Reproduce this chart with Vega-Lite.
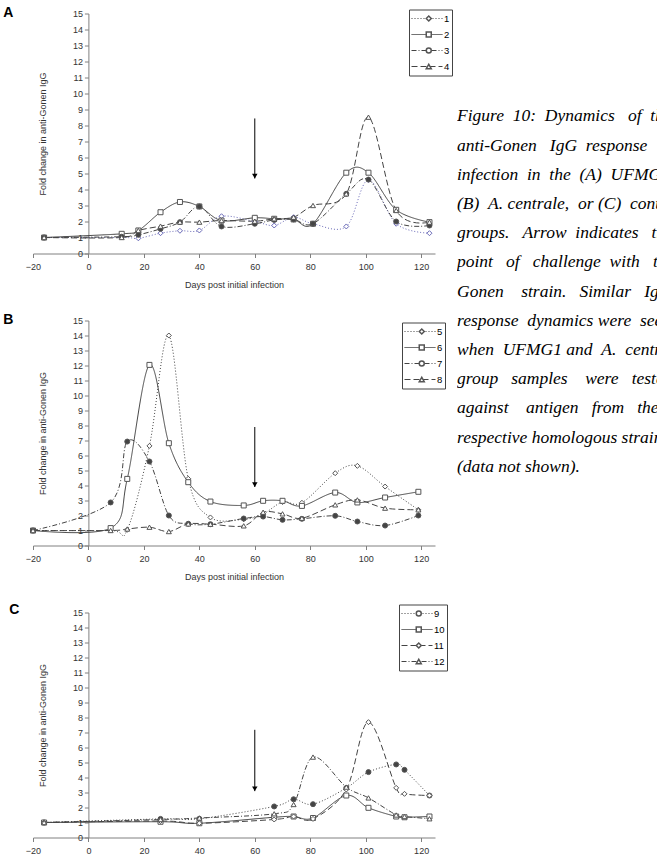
{
  "$schema": "https://vega.github.io/schema/vega-lite/v6.json",
  "background": "white",
  "padding": {"left": 3, "top": 5.5, "right": 0, "bottom": 0},
  "config": {
    "view": {"stroke": null},
    "font": "Liberation Sans",
    "axis": {
      "grid": false,
      "domainColor": "#808080",
      "tickColor": "#808080",
      "domainWidth": 1,
      "tickWidth": 1,
      "tickSize": 4,
      "labelFont": "Liberation Sans",
      "labelFontSize": 9,
      "labelColor": "#333",
      "labelFlush": false,
      "labelOverlap": false,
      "labelSeparation": 0,
      "titleFont": "Liberation Sans",
      "titleFontSize": 9,
      "titleFontWeight": "normal",
      "titleColor": "#333"
    },
    "axisX": {"labelPadding": 5, "titlePadding": 9},
    "axisY": {"offset": -55.4, "labelPadding": 2, "titlePadding": 25}
  },
  "datasets": {
    "A": [
      {"series":1,"day":-16,"value":1.0},{"series":1,"day":12,"value":1.0},{"series":1,"day":18,"value":0.95},{"series":1,"day":26,"value":1.27},{"series":1,"day":33,"value":1.42},{"series":1,"day":40,"value":1.44},{"series":1,"day":48,"value":2.33},{"series":1,"day":60,"value":2.0},{"series":1,"day":67,"value":1.75},{"series":1,"day":74,"value":2.27},{"series":1,"day":81,"value":1.86},{"series":1,"day":93,"value":1.69},{"series":1,"day":101,"value":4.6},{"series":1,"day":111,"value":1.86},{"series":1,"day":123,"value":1.27},
      {"series":2,"day":-16,"value":1.0},{"series":2,"day":12,"value":1.23},{"series":2,"day":18,"value":1.44},{"series":2,"day":26,"value":2.58},{"series":2,"day":33,"value":3.22},{"series":2,"day":40,"value":2.94},{"series":2,"day":48,"value":2.06},{"series":2,"day":60,"value":2.23},{"series":2,"day":67,"value":2.17},{"series":2,"day":74,"value":2.13},{"series":2,"day":81,"value":1.86},{"series":2,"day":93,"value":5.05},{"series":2,"day":101,"value":5.05},{"series":2,"day":111,"value":2.73},{"series":2,"day":123,"value":1.96},
      {"series":3,"day":-16,"value":1.0},{"series":3,"day":12,"value":1.05},{"series":3,"day":18,"value":1.17},{"series":3,"day":26,"value":1.54},{"series":3,"day":33,"value":1.96},{"series":3,"day":40,"value":2.94},{"series":3,"day":48,"value":1.69},{"series":3,"day":60,"value":1.86},{"series":3,"day":67,"value":2.1},{"series":3,"day":74,"value":2.13},{"series":3,"day":81,"value":1.86},{"series":3,"day":93,"value":3.73},{"series":3,"day":101,"value":4.62},{"series":3,"day":111,"value":2.0},{"series":3,"day":123,"value":1.75},
      {"series":4,"day":-16,"value":1.0},{"series":4,"day":12,"value":1.0},{"series":4,"day":18,"value":1.44},{"series":4,"day":26,"value":1.71},{"series":4,"day":33,"value":1.96},{"series":4,"day":40,"value":1.96},{"series":4,"day":48,"value":2.06},{"series":4,"day":60,"value":2.02},{"series":4,"day":67,"value":2.17},{"series":4,"day":74,"value":2.27},{"series":4,"day":81,"value":3.0},{"series":4,"day":93,"value":3.73},{"series":4,"day":101,"value":8.52},{"series":4,"day":111,"value":2.69},{"series":4,"day":123,"value":1.96}
    ],
    "B": [
      {"series":5,"day":-20,"value":1.0},{"series":5,"day":8,"value":1.0},{"series":5,"day":14,"value":1.05},{"series":5,"day":22,"value":6.64},{"series":5,"day":29,"value":14.0},{"series":5,"day":36,"value":4.45},{"series":5,"day":44,"value":1.87},{"series":5,"day":56,"value":1.75},{"series":5,"day":63,"value":2.1},{"series":5,"day":70,"value":2.9},{"series":5,"day":77,"value":2.85},{"series":5,"day":89,"value":4.82},{"series":5,"day":97,"value":5.31},{"series":5,"day":107,"value":3.93},{"series":5,"day":119,"value":2.38},
      {"series":6,"day":-20,"value":1.0},{"series":6,"day":8,"value":1.16},{"series":6,"day":14,"value":4.44},{"series":6,"day":22,"value":12.04},{"series":6,"day":29,"value":6.82},{"series":6,"day":36,"value":4.22},{"series":6,"day":44,"value":2.93},{"series":6,"day":56,"value":2.67},{"series":6,"day":63,"value":2.98},{"series":6,"day":70,"value":2.98},{"series":6,"day":77,"value":2.64},{"series":6,"day":89,"value":3.53},{"series":6,"day":97,"value":2.87},{"series":6,"day":107,"value":3.2},{"series":6,"day":119,"value":3.58},
      {"series":7,"day":-20,"value":1.0},{"series":7,"day":8,"value":2.87},{"series":7,"day":14,"value":6.93},{"series":7,"day":22,"value":5.6},{"series":7,"day":29,"value":2.0},{"series":7,"day":36,"value":1.45},{"series":7,"day":44,"value":1.42},{"series":7,"day":56,"value":1.8},{"series":7,"day":63,"value":1.93},{"series":7,"day":70,"value":1.71},{"series":7,"day":77,"value":1.78},{"series":7,"day":89,"value":1.98},{"series":7,"day":97,"value":1.6},{"series":7,"day":107,"value":1.33},{"series":7,"day":119,"value":2.0},
      {"series":8,"day":-20,"value":1.0},{"series":8,"day":8,"value":1.0},{"series":8,"day":14,"value":1.1},{"series":8,"day":22,"value":1.22},{"series":8,"day":29,"value":0.93},{"series":8,"day":36,"value":1.44},{"series":8,"day":44,"value":1.42},{"series":8,"day":56,"value":1.31},{"series":8,"day":63,"value":2.22},{"series":8,"day":70,"value":2.11},{"series":8,"day":77,"value":1.82},{"series":8,"day":89,"value":2.71},{"series":8,"day":97,"value":3.04},{"series":8,"day":107,"value":2.49},{"series":8,"day":119,"value":2.38}
    ],
    "C": [
      {"series":9,"day":-16,"value":1.0},{"series":9,"day":26,"value":1.24},{"series":9,"day":40,"value":1.25},{"series":9,"day":67,"value":2.07},{"series":9,"day":74,"value":2.55},{"series":9,"day":81,"value":2.22},{"series":9,"day":93,"value":3.3},{"series":9,"day":101,"value":4.36},{"series":9,"day":111,"value":4.87},{"series":9,"day":114,"value":4.51},{"series":9,"day":123,"value":2.8},
      {"series":10,"day":-16,"value":1.0},{"series":10,"day":26,"value":1.05},{"series":10,"day":40,"value":0.95},{"series":10,"day":67,"value":1.35},{"series":10,"day":74,"value":1.4},{"series":10,"day":81,"value":1.3},{"series":10,"day":93,"value":2.8},{"series":10,"day":101,"value":1.98},{"series":10,"day":111,"value":1.4},{"series":10,"day":114,"value":1.35},{"series":10,"day":123,"value":1.4},
      {"series":11,"day":-16,"value":1.0},{"series":11,"day":26,"value":1.1},{"series":11,"day":40,"value":0.95},{"series":11,"day":67,"value":1.2},{"series":11,"day":74,"value":1.4},{"series":11,"day":81,"value":1.24},{"series":11,"day":93,"value":3.2},{"series":11,"day":101,"value":7.69},{"series":11,"day":111,"value":3.31},{"series":11,"day":114,"value":2.91},{"series":11,"day":123,"value":2.8},
      {"series":12,"day":-16,"value":1.0},{"series":12,"day":26,"value":1.2},{"series":12,"day":40,"value":1.3},{"series":12,"day":67,"value":1.58},{"series":12,"day":74,"value":2.2},{"series":12,"day":81,"value":5.36},{"series":12,"day":93,"value":3.36},{"series":12,"day":101,"value":2.64},{"series":12,"day":111,"value":1.5},{"series":12,"day":114,"value":1.4},{"series":12,"day":123,"value":1.25}
    ],
    "arrows": [
      {"panel":"A","day":60,"top":8.44,"tip":4.69,"head":4.84},
      {"panel":"B","day":60,"top":7.9,"tip":3.9,"head":4.06},
      {"panel":"C","day":60,"top":7.18,"tip":3.09,"head":3.25}
    ],
    "letters": [
      {"panel":"A","letter":"A","x":-30.7,"y":14.77},
      {"panel":"B","letter":"B","x":-30.7,"y":14.8},
      {"panel":"C","letter":"C","x":-28.55,"y":14.87}
    ],
    "caption": [
      {"line":0,"text":"Figure \u00a010: \u00a0Dynamics \u00a0\u00a0of \u00a0the"},
      {"line":1,"text":"anti-Gonen \u00a0\u00a0IgG \u00a0response \u00a0\u00a0to"},
      {"line":2,"text":"infection \u00a0in \u00a0the \u00a0(A) \u00a0UFMG1,"},
      {"line":3,"text":"(B) \u00a0A. centrale, \u00a0or (C) \u00a0control"},
      {"line":4,"text":"groups. \u00a0\u00a0Arrow \u00a0indicates \u00a0\u00a0the"},
      {"line":5,"text":"point \u00a0\u00a0of \u00a0\u00a0challenge \u00a0with \u00a0\u00a0the"},
      {"line":6,"text":"Gonen \u00a0\u00a0\u00a0strain. \u00a0\u00a0Similar \u00a0\u00a0IgG"},
      {"line":7,"text":"response \u00a0dynamics were \u00a0seen"},
      {"line":8,"text":"when \u00a0UFMG1 and \u00a0A. \u00a0centrale"},
      {"line":9,"text":"group \u00a0\u00a0samples \u00a0\u00a0\u00a0were \u00a0\u00a0tested"},
      {"line":10,"text":"against \u00a0\u00a0\u00a0antigen \u00a0\u00a0from \u00a0\u00a0their"},
      {"line":11,"text":"respective homologous strains"},
      {"line":12,"text":"(data not shown)."}
    ]
  },
  "spacing": 4,
  "hconcat": [
    {
      "bounds": "flush",
      "spacing": 67,
      "resolve": {"scale": {"strokeDash": "independent", "shape": "independent"}, "legend": {"strokeDash": "independent", "shape": "independent"}},
      "vconcat": [
        {
          "width": 402, "height": 240,
          "layer": [
            {
              "data": {"name": "A"},
              "mark": {"type": "line", "interpolate": "cardinal", "strokeWidth": 1},
              "encoding": {
                "x": {"field": "day", "type": "quantitative", "scale": {"domain": [-20, 125], "nice": false, "zero": false}, "axis": {"title": "Days post initial infection", "values": [-20,0,20,40,60,80,100,120]}},
                "y": {"field": "value", "type": "quantitative", "scale": {"domain": [0, 15], "nice": false, "zero": false}, "axis": {"title": "Fold change in anti-Gonen IgG", "values": [0,1,2,3,4,5,6,7,8,9,10,11,12,13,14,15], "tickCount": 16, "labelOverlap": false}},
                "strokeDash": {"field": "series", "type": "nominal", "scale": {"range": [[1,2],[1,0],[5,2,1,2],[6,3]]},
                  "legend": {"orient": "none", "legendX": 376, "legendY": -4, "title": null, "symbolType": "stroke", "symbolSize": 961, "symbolStrokeWidth": 1, "labelFont": "Liberation Sans", "labelFontSize": 9.5, "labelColor": "#000", "labelOffset": 1, "clipHeight": 14, "rowPadding": 2, "padding": 2, "strokeColor": "#444", "fillColor": "white", "zindex": 1,
                    "encode": {"symbols": {"update": {"stroke": [{"test": "datum.value === 1", "value": "#6b6bb8"}, {"value": "#444"}]}}}}},
                "stroke": {"condition": {"test": "datum.series === 1", "value": "#6b6bb8"}, "value": "#444"}
              }
            },
            {
              "data": {"name": "A"},
              "mark": {"type": "point", "filled": true, "size": 25, "strokeWidth": 1, "opacity": 1},
              "encoding": {
                "x": {"field": "day", "type": "quantitative"},
                "y": {"field": "value", "type": "quantitative"},
                "shape": {"field": "series", "type": "nominal", "scale": {"domain": [1,2,3,4], "range": ["diamond","square","circle","triangle-up"]},
                  "legend": {"orient": "none", "legendX": 389, "legendY": -4, "title": null, "symbolSize": 25, "labelFontSize": 9.5, "labelExpr": "''", "clipHeight": 14, "rowPadding": 2, "padding": 2, "zindex": 2,
                    "encode": {"symbols": {"update": {"stroke": [{"test": "datum.value === 1", "value": "#6b6bb8"}, {"value": "#555"}], "fill": [{"test": "datum.value === 3", "value": "#444"}, {"value": "white"}], "strokeWidth": {"value": 1}, "opacity": {"value": 1}}}}}},
                "stroke": {"condition": {"test": "datum.series === 1", "value": "#6b6bb8"}, "value": "#555"},
                "fill": {"condition": {"test": "datum.series === 3 || datum.series === 7 || datum.series === 9", "value": "#444"}, "value": "white"}
              }
            },
            {
              "data": {"name": "arrows"},
              "transform": [{"filter": "datum.panel === 'A'"}],
              "mark": {"type": "rule", "strokeWidth": 1, "color": "#000"},
              "encoding": {"x": {"field": "day", "type": "quantitative"}, "y": {"field": "top", "type": "quantitative"}, "y2": {"field": "tip"}}
            },
            {
              "data": {"name": "arrows"},
              "transform": [{"filter": "datum.panel === 'A'"}],
              "mark": {"type": "point", "shape": "triangle-down", "filled": true, "size": 30, "color": "#000", "opacity": 1},
              "encoding": {"x": {"field": "day", "type": "quantitative"}, "y": {"field": "head", "type": "quantitative"}}
            },
            {
              "data": {"name": "letters"},
              "transform": [{"filter": "datum.panel === 'A'"}],
              "mark": {"type": "text", "align": "left", "baseline": "alphabetic", "font": "Liberation Sans", "fontSize": 14, "fontWeight": "bold", "color": "#000"},
              "encoding": {"x": {"field": "x", "type": "quantitative"}, "y": {"field": "y", "type": "quantitative"}, "text": {"field": "letter"}}
            }
          ]
        },
        {
          "width": 402, "height": 225,
          "layer": [
            {
              "data": {"name": "B"},
              "mark": {"type": "line", "interpolate": "cardinal", "strokeWidth": 1},
              "encoding": {
                "x": {"field": "day", "type": "quantitative", "scale": {"domain": [-20, 125], "nice": false, "zero": false}, "axis": {"title": "Days post initial infection", "values": [-20,0,20,40,60,80,100,120]}},
                "y": {"field": "value", "type": "quantitative", "scale": {"domain": [0, 15], "nice": false, "zero": false}, "axis": {"title": "Fold change in anti-Gonen IgG", "values": [0,1,2,3,4,5,6,7,8,9,10,11,12,13,14,15], "tickCount": 16, "labelOverlap": false}},
                "strokeDash": {"field": "series", "type": "nominal", "scale": {"range": [[1,2],[1,0],[5,2,1,2],[6,3]]},
                  "legend": {"orient": "none", "legendX": 369, "legendY": 2, "title": null, "symbolType": "stroke", "symbolSize": 961, "symbolStrokeWidth": 1, "labelFont": "Liberation Sans", "labelFontSize": 9.5, "labelColor": "#000", "labelOffset": 1, "clipHeight": 14, "rowPadding": 2, "padding": 2, "strokeColor": "#444", "fillColor": "white", "zindex": 1,
                    "encode": {"symbols": {"update": {"stroke": {"value": "#444"}}}}}},
                "stroke": {"value": "#444"}
              }
            },
            {
              "data": {"name": "B"},
              "mark": {"type": "point", "filled": true, "size": 25, "strokeWidth": 1, "opacity": 1},
              "encoding": {
                "x": {"field": "day", "type": "quantitative"},
                "y": {"field": "value", "type": "quantitative"},
                "shape": {"field": "series", "type": "nominal", "scale": {"domain": [5,6,7,8], "range": ["diamond","square","circle","triangle-up"]},
                  "legend": {"orient": "none", "legendX": 382, "legendY": 2, "title": null, "symbolSize": 25, "labelFontSize": 9.5, "labelExpr": "''", "clipHeight": 14, "rowPadding": 2, "padding": 2, "zindex": 2,
                    "encode": {"symbols": {"update": {"stroke": {"value": "#555"}, "fill": [{"test": "datum.value === 7", "value": "#444"}, {"value": "white"}], "strokeWidth": {"value": 1}, "opacity": {"value": 1}}}}}},
                "stroke": {"value": "#555"},
                "fill": {"condition": {"test": "datum.series === 3 || datum.series === 7 || datum.series === 9", "value": "#444"}, "value": "white"}
              }
            },
            {
              "data": {"name": "arrows"},
              "transform": [{"filter": "datum.panel === 'B'"}],
              "mark": {"type": "rule", "strokeWidth": 1, "color": "#000"},
              "encoding": {"x": {"field": "day", "type": "quantitative"}, "y": {"field": "top", "type": "quantitative"}, "y2": {"field": "tip"}}
            },
            {
              "data": {"name": "arrows"},
              "transform": [{"filter": "datum.panel === 'B'"}],
              "mark": {"type": "point", "shape": "triangle-down", "filled": true, "size": 30, "color": "#000", "opacity": 1},
              "encoding": {"x": {"field": "day", "type": "quantitative"}, "y": {"field": "head", "type": "quantitative"}}
            },
            {
              "data": {"name": "letters"},
              "transform": [{"filter": "datum.panel === 'B'"}],
              "mark": {"type": "text", "align": "left", "baseline": "alphabetic", "font": "Liberation Sans", "fontSize": 14, "fontWeight": "bold", "color": "#000"},
              "encoding": {"x": {"field": "x", "type": "quantitative"}, "y": {"field": "y", "type": "quantitative"}, "text": {"field": "letter"}}
            }
          ]
        },
        {
          "width": 402, "height": 225,
          "layer": [
            {
              "data": {"name": "C"},
              "mark": {"type": "line", "interpolate": "cardinal", "strokeWidth": 1},
              "encoding": {
                "x": {"field": "day", "type": "quantitative", "scale": {"domain": [-20, 125], "nice": false, "zero": false}, "axis": {"title": null, "values": [-20,0,20,40,60,80,100,120]}},
                "y": {"field": "value", "type": "quantitative", "scale": {"domain": [0, 15], "nice": false, "zero": false}, "axis": {"title": "Fold change in anti-Gonen IgG", "values": [0,1,2,3,4,5,6,7,8,9,10,11,12,13,14,15], "tickCount": 16, "labelOverlap": false}},
                "strokeDash": {"field": "series", "type": "nominal", "scale": {"range": [[1,2],[1,0],[6,3],[5,2,1,2]]},
                  "legend": {"orient": "none", "legendX": 366, "legendY": -8, "title": null, "symbolType": "stroke", "symbolSize": 961, "symbolStrokeWidth": 1, "labelFont": "Liberation Sans", "labelFontSize": 9.5, "labelColor": "#000", "labelOffset": 1, "clipHeight": 14, "rowPadding": 2, "padding": 2, "strokeColor": "#444", "fillColor": "white", "zindex": 1,
                    "encode": {"symbols": {"update": {"stroke": {"value": "#444"}}}}}},
                "stroke": {"value": "#444"}
              }
            },
            {
              "data": {"name": "C"},
              "mark": {"type": "point", "filled": true, "size": 25, "strokeWidth": 1, "opacity": 1},
              "encoding": {
                "x": {"field": "day", "type": "quantitative"},
                "y": {"field": "value", "type": "quantitative"},
                "shape": {"field": "series", "type": "nominal", "scale": {"domain": [9,10,11,12], "range": ["circle","square","diamond","triangle-up"]},
                  "legend": {"orient": "none", "legendX": 379, "legendY": -8, "title": null, "symbolSize": 25, "labelFontSize": 9.5, "labelExpr": "''", "clipHeight": 14, "rowPadding": 2, "padding": 2, "zindex": 2,
                    "encode": {"symbols": {"update": {"stroke": {"value": "#555"}, "fill": [{"test": "datum.value === 9", "value": "#444"}, {"value": "white"}], "strokeWidth": {"value": 1}, "opacity": {"value": 1}}}}}},
                "stroke": {"value": "#555"},
                "fill": {"condition": {"test": "datum.series === 3 || datum.series === 7 || datum.series === 9", "value": "#444"}, "value": "white"}
              }
            },
            {
              "data": {"name": "arrows"},
              "transform": [{"filter": "datum.panel === 'C'"}],
              "mark": {"type": "rule", "strokeWidth": 1, "color": "#000"},
              "encoding": {"x": {"field": "day", "type": "quantitative"}, "y": {"field": "top", "type": "quantitative"}, "y2": {"field": "tip"}}
            },
            {
              "data": {"name": "arrows"},
              "transform": [{"filter": "datum.panel === 'C'"}],
              "mark": {"type": "point", "shape": "triangle-down", "filled": true, "size": 30, "color": "#000", "opacity": 1},
              "encoding": {"x": {"field": "day", "type": "quantitative"}, "y": {"field": "head", "type": "quantitative"}}
            },
            {
              "data": {"name": "letters"},
              "transform": [{"filter": "datum.panel === 'C'"}],
              "mark": {"type": "text", "align": "left", "baseline": "alphabetic", "font": "Liberation Sans", "fontSize": 14, "fontWeight": "bold", "color": "#000"},
              "encoding": {"x": {"field": "x", "type": "quantitative"}, "y": {"field": "y", "type": "quantitative"}, "text": {"field": "letter"}}
            }
          ]
        }
      ]
    },
    {
      "width": 200, "height": 480,
      "data": {"name": "caption"},
      "mark": {"type": "text", "align": "left", "baseline": "middle", "font": "Liberation Serif", "fontStyle": "italic", "fontSize": 17.5, "clip": true, "color": "#000"},
      "encoding": {
        "x": {"datum": 0, "type": "quantitative", "scale": {"domain": [0, 1]}, "axis": null},
        "y": {"field": "line", "type": "quantitative", "scale": {"domain": [-3.527, 12.911], "reverse": true, "nice": false, "zero": false}, "axis": null},
        "text": {"field": "text"}
      }
    }
  ]
}
